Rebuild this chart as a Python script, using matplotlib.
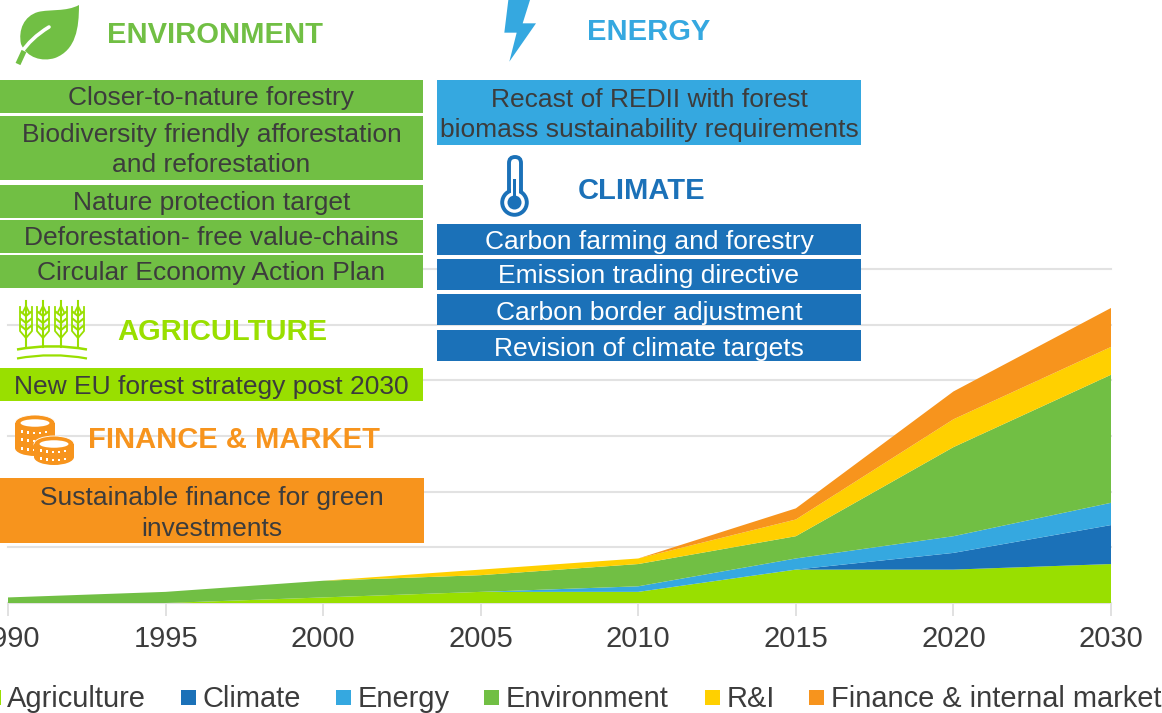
import matplotlib
matplotlib.use("Agg")
import numpy as np
import matplotlib.pyplot as plt
from matplotlib.patches import Rectangle, Circle, Ellipse, FancyBboxPatch, Polygon, PathPatch
from matplotlib.path import Path

plt.rcParams['font.family'] = ['Liberation Sans', 'DejaVu Sans']

# data
years = ['1990', '1995', '2000', '2005', '2010', '2015', '2020', '2030']
agriculture = [0, 0, 1, 2, 2, 6, 6, 7]
climate = [0, 0, 0, 0, 0, 0, 3, 7]
energy = [0, 0, 0, 0, 1, 2, 3, 4]
environment = [1, 2, 3, 3, 4, 4, 16, 23]
research = [0, 0, 0, 1, 1, 3, 5, 5]
finance = [0, 0, 0, 0, 0, 2, 5, 7]
series_names = ['Agriculture', 'Climate', 'Energy', 'Environment', 'R&I', 'Finance & internal market']

GREEN = '#71BF44'
LIME = '#99DF00'
BLUE = '#1B71B8'
SKY = '#35A8E0'
YELLOW = '#FFD000'
ORANGE = '#F7941D'
DARK = '#3C3C3C'
colors = [LIME, BLUE, SKY, GREEN, YELLOW, ORANGE]

W, H = 1162, 713
fig = plt.figure(figsize=(W / 100, H / 100), dpi=100)

# chart
ax = fig.add_axes([8 / W, 1 - 603 / H, (1111 - 8) / W, (603 - 269) / H])
x = np.arange(len(years))
ax.stackplot(x, agriculture, climate, energy, environment, research, finance,
             colors=colors, zorder=3, linewidth=0)
ax.set_xlim(0, 7)
ax.set_ylim(0, 60)
ax.set_yticks(range(0, 61, 10))
ax.set_yticklabels([])
ax.yaxis.grid(True, color='#E2E2E2', lw=1.5, zorder=0, clip_on=False)
ax.tick_params(axis='y', length=0)
ax.set_xticks(x)
ax.set_xticklabels(years, fontsize=21, color=DARK)
ax.tick_params(axis='x', length=9, width=1.2, color='#DCDCDC', pad=7)
for s in ['top', 'left', 'right']:
    ax.spines[s].set_visible(False)
ax.spines['bottom'].set_color('#E2E2E2')
ax.spines['bottom'].set_linewidth(1.4)

# overlay in pixel coordinates for the boxes, headers and icons
ov = fig.add_axes([0, 0, 1, 1])
ov.set_xlim(0, W)
ov.set_ylim(H, 0)
ov.axis('off')
ov.patch.set_alpha(0)


def box(x0, x1, y0, y1, color, label, txt=DARK, size=19.0, dy=1.5):
    ov.add_patch(Rectangle((x0, y0), x1 - x0, y1 - y0, fc=color, ec='none', zorder=5))
    ov.text((x0 + x1) / 2, (y0 + y1) / 2 + dy, label, ha='center', va='center', fontsize=size,
            color=txt, zorder=6, linespacing=1.33)


box(0, 423, 80, 113, GREEN, 'Closer-to-nature forestry')
box(0, 423, 116, 180, GREEN, 'Biodiversity friendly afforestation\nand reforestation', dy=2)
box(0, 423, 185, 218, GREEN, 'Nature protection target')
box(0, 423, 220, 253, GREEN, 'Deforestation- free value-chains')
box(0, 423, 255, 288, GREEN, 'Circular Economy Action Plan')
box(0, 423, 368, 401, LIME, 'New EU forest strategy post 2030', dy=2.5)
box(0, 424, 478, 543, ORANGE, 'Sustainable finance for green\ninvestments', dy=3)
box(437, 861, 80, 145, SKY, 'Recast of REDII with forest\nbiomass sustainability requirements', dy=2.5)
box(437, 861, 224, 255, BLUE, 'Carbon farming and forestry', 'white', dy=3)
box(437, 861, 259, 290, BLUE, 'Emission trading directive', 'white', dy=2)
box(437, 861, 294, 325, BLUE, 'Carbon border adjustment', 'white', dy=3.5)
box(437, 861, 330, 361, BLUE, 'Revision of climate targets', 'white', dy=3.5)

headers = [('ENVIRONMENT', 107, 35, GREEN), ('AGRICULTURE', 117, 332, LIME),
           ('FINANCE & MARKET', 88, 440, ORANGE), ('ENERGY', 587, 32, SKY), ('CLIMATE', 578, 191, BLUE)]
for label, hx, hy, c in headers:
    ov.text(hx, hy, label, ha='left', va='center', fontsize=21, fontweight='bold', color=c, zorder=6)

# leaf icon
leaf = Path([(79, 5), (66, 12), (50, 9), (38, 12), (24, 16), (18, 30), (21, 44),
             (27, 58), (42, 62), (55, 58), (76, 50), (79, 28), (79, 5)],
            [Path.MOVETO] + [Path.CURVE4] * 12)
ov.add_patch(PathPatch(leaf, fc=GREEN, ec='none', zorder=6))
vein = Path([(49, 27), (36, 35), (28, 43), (21, 53)], [Path.MOVETO, Path.CURVE4, Path.CURVE4, Path.CURVE4])
ov.add_patch(PathPatch(vein, fc='none', ec='white', lw=2.6, capstyle='round', zorder=7))
ov.plot([24, 18], [51, 64], color=GREEN, lw=3.8, solid_capstyle='butt', zorder=8)

# lightning icon
bolt = np.array([[85, 0], [150, 0], [128, 70], [168, 70], [88, 185], [110, 98], [73, 98]]) / 3 + [480, 0]
ov.add_patch(Polygon(bolt, closed=True, fc=SKY, ec='none', zorder=6))

# thermometer icon
ov.add_patch(FancyBboxPatch((509, 157), 12, 40, boxstyle='round,pad=0,rounding_size=6',
                            fc='white', ec=BLUE, lw=2.8, zorder=6))
ov.add_patch(Circle((514.5, 202.5), 12.3, fc='white', ec=BLUE, lw=2.8, zorder=6))
ov.add_patch(Rectangle((510.6, 188), 8.8, 8, fc='white', ec='none', zorder=7))
ov.add_patch(Circle((514.5, 202.5), 7, fc=BLUE, ec='none', zorder=8))
ov.add_patch(Rectangle((513.2, 179), 2.8, 20, fc=BLUE, ec='none', zorder=8))

# wheat icon
for sx in [26, 43, 61, 78]:
    ov.plot([sx, sx], [301, 347], color=LIME, lw=1.5, zorder=6)
    ov.plot([sx - 6, sx - 6, sx, sx + 6, sx + 6], [307, 331, 338, 331, 307],
            color=LIME, lw=1.3, zorder=6)
    for gy in [316, 323, 330]:
        ov.plot([sx - 5, sx, sx + 5], [gy - 4, gy, gy - 4], color=LIME, lw=1.5, zorder=6)
    ov.plot([sx - 3, sx, sx + 3], [312, 306, 312], color=LIME, lw=1.3, zorder=6)
ground = Path([(17, 349.5), (52, 343), (87, 349.5)], [Path.MOVETO, Path.CURVE3, Path.CURVE3])
ov.add_patch(PathPatch(ground, fc='none', ec=LIME, lw=1.8, zorder=6))
ground2 = Path([(17, 358.5), (52, 352), (87, 358.5)], [Path.MOVETO, Path.CURVE3, Path.CURVE3])
ov.add_patch(PathPatch(ground2, fc='none', ec=LIME, lw=1.6, zorder=6))


# coins icon
def coin(cx, cy, height, rows, z):
    ov.add_patch(Ellipse((cx, cy), 40, 16, fc=ORANGE, ec='white', lw=0.6, zorder=z))
    ov.add_patch(Rectangle((cx - 20, cy), 40, height, fc=ORANGE, ec='none', zorder=z))
    ov.add_patch(Ellipse((cx, cy + height), 40, 16, fc=ORANGE, ec='none', zorder=z))
    ov.add_patch(Ellipse((cx, cy), 29, 7.5, fc='white', ec='none', zorder=z + 0.1))
    for row in rows:
        for dx in [-13, -7, -1, 5, 11]:
            dy = 3.5 * (1 - (dx / 20) ** 2)
            ov.add_patch(Rectangle((cx + dx - 1.2, cy + row + dy - 4.7), 2.4, 2.4, fc='white', ec='none',
                                   zorder=z + 0.1))


coin(35, 423, 25, [10, 18, 27], 6)
coin(54, 444, 13, [8, 16], 6.5)

# legend
legend_sq = [-14, 181, 336, 484, 705, 809]
legend_tx = [7, 203, 358, 506, 727, 831]
for name, c, sq, tx in zip(series_names, colors, legend_sq, legend_tx):
    ov.add_patch(Rectangle((sq, 690), 15, 15, fc=c, ec='none', zorder=6))
    ov.text(tx, 699, name, ha='left', va='center', fontsize=20.9, color=DARK, zorder=6)

fig.savefig('out.png', dpi=100)
